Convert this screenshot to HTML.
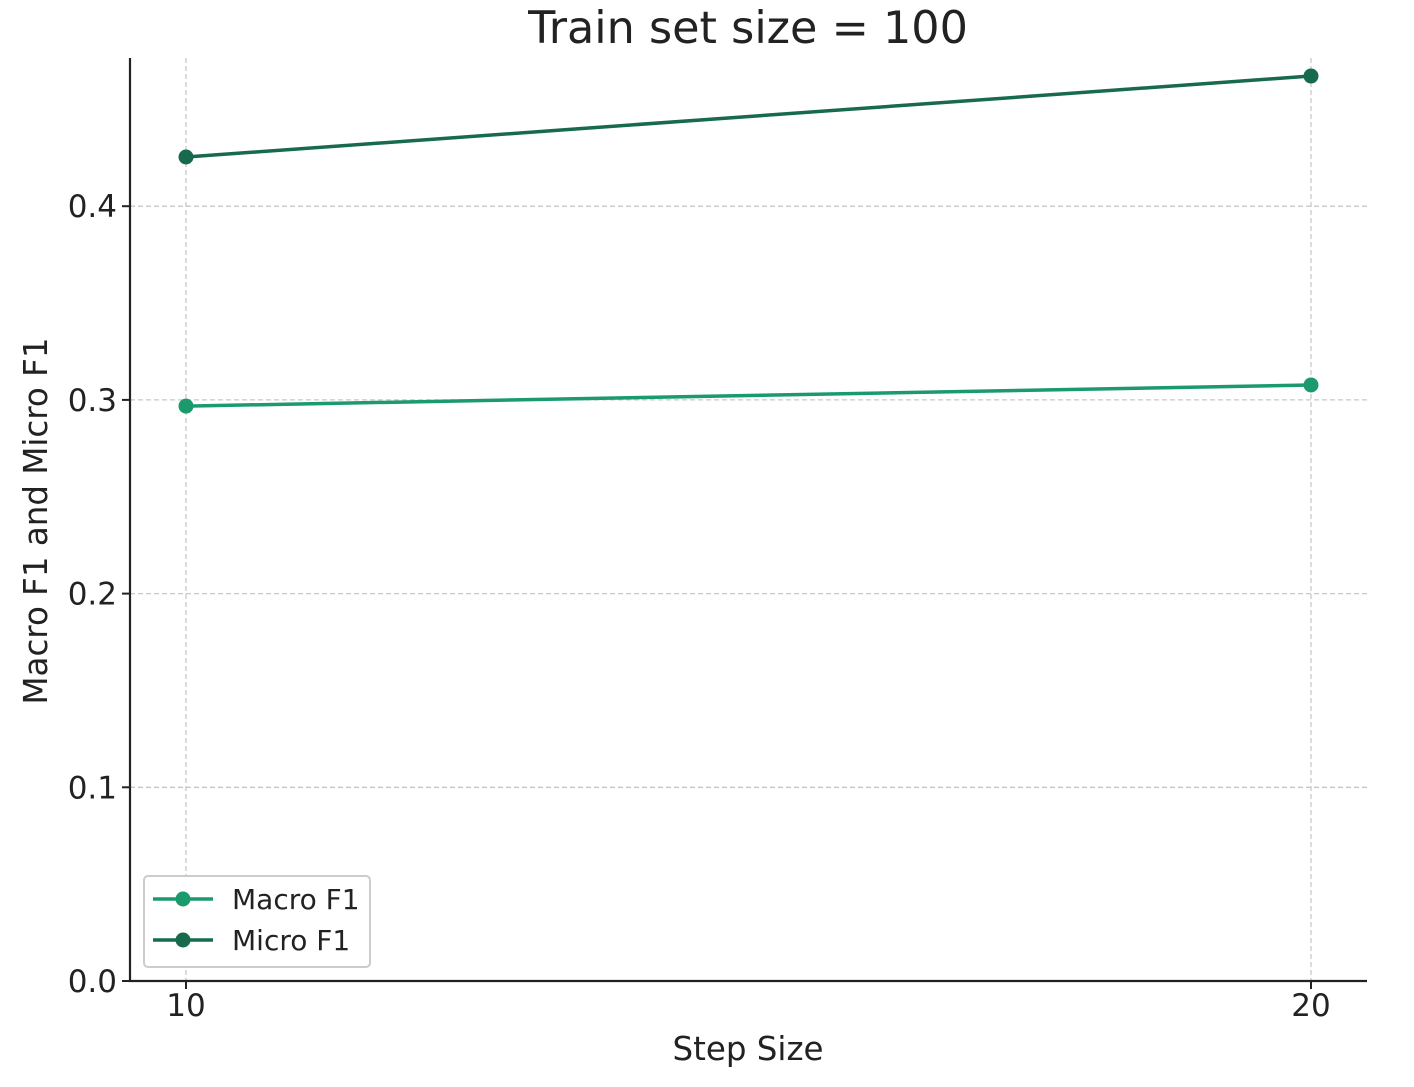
<!DOCTYPE html>
<html><head><meta charset="utf-8"><style>
body{margin:0;background:#fff;}
svg text{font-family:"DejaVu Sans","Liberation Sans",sans-serif;fill:#222;}
</style></head><body>
<svg id="chart" width="1414" height="1082">
<text x="748" y="43" font-size="44.5" text-anchor="middle">Train set size = 100</text>
<g id="grid"></g>
<g id="axes"></g>
<g id="series"></g>
<text x="748" y="1060" font-size="32.5" text-anchor="middle">Step Size</text>
<text transform="translate(47,521) rotate(-90)" font-size="32.5" text-anchor="middle">Macro F1 and Micro F1</text>
<g>
<rect x="144" y="876" width="226" height="91" rx="4" fill="#fff" stroke="#ccc" stroke-width="2"/>
<g>
<line x1="153" y1="899" x2="213" y2="899" stroke="#1b9a6e" stroke-width="3.5"/>
<circle cx="183" cy="899" r="7.5" fill="#1b9a6e"/>
<text x="232" y="909" font-size="28">Macro F1</text></g>
<g>
<line x1="153" y1="940" x2="213" y2="940" stroke="#176a4c" stroke-width="3.5"/>
<circle cx="183" cy="940" r="7.5" fill="#176a4c"/>
<text x="232" y="950" font-size="28">Micro F1</text></g>
</g>
</svg>
<script>
const steps=[10,20];
const macroF1=[0.2968,0.3077];
const microF1=[0.4254,0.4672];
const yTicks=[0,0.1,0.2,0.3,0.4];
const yTickLabels=["0.0","0.1","0.2","0.3","0.4"];
const NS="http://www.w3.org/2000/svg";
const X=v=>186+(v-10)*(1311-186)/10;
const Y=v=>981-v*1937;
function mk(t,a,p){const e=document.createElementNS(NS,t);for(const k in a)e.setAttribute(k,a[k]);p.appendChild(e);return e;}
const grid=document.getElementById('grid'),axes=document.getElementById('axes'),ser=document.getElementById('series');
yTicks.forEach((v,i)=>{
 if(v>0){const g=mk('line',{x1:130,x2:1367,y1:Y(v),y2:Y(v),stroke:'#c8c8c8','stroke-width':1.3,'stroke-dasharray':'5,3'},grid);
 
 }
 const tk=mk('line',{x1:122,x2:130,y1:Y(v),y2:Y(v),stroke:'#222','stroke-width':2},axes);
 
 
 const t=mk('text',{x:117,y:Y(v)+11,'font-size':31,'text-anchor':'end'},axes);t.textContent=yTickLabels[i];
 
 
});
steps.forEach(s=>{
 const g=mk('line',{x1:X(s),x2:X(s),y1:58,y2:981,stroke:'#c8c8c8','stroke-width':1.3,'stroke-dasharray':'5,3'},grid);
 
 
 const tk=mk('line',{x1:X(s),x2:X(s),y1:981,y2:989,stroke:'#222','stroke-width':2},axes);
 
 
 const t=mk('text',{x:X(s),y:1016,'font-size':31,'text-anchor':'middle'},axes);t.textContent=s;
 
 
});
const ax=mk('path',{d:'M130,58 V981 H1367',fill:'none',stroke:'#222','stroke-width':2.2},axes);


[[macroF1,'#1b9a6e','macro'],[microF1,'#176a4c','micro']].forEach(([d,c,n])=>{
 const l=mk('polyline',{points:steps.map((s,i)=>X(s)+','+Y(d[i])).join(' '),fill:'none',stroke:c,'stroke-width':3.5},ser);
 
 
 steps.forEach((s,i)=>{const p=mk('circle',{cx:X(s),cy:Y(d[i]),r:7.5,fill:c},ser);
 
 });
});
</script>
</body></html>
